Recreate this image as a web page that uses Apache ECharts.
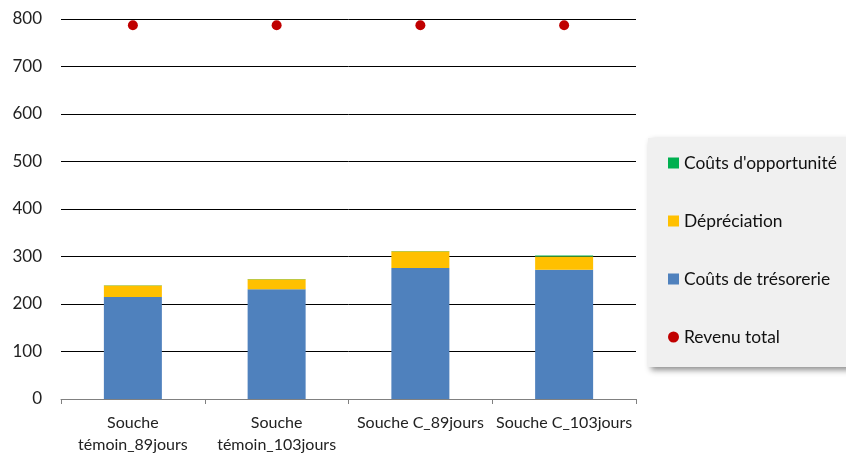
<!DOCTYPE html>
<html>
<head>
<meta charset="utf-8">
<script src="https://cdn.jsdelivr.net/npm/echarts@6/dist/echarts.min.js"></script>
<style>
  html, body { margin: 0; padding: 0; background: #ffffff; }
  #chart { width: 846px; height: 459px; }
</style>
</head>
<body>
<div id="chart"></div>
<script>
// Categories and values
const categories = ['Souche\ntémoin_89jours', 'Souche\ntémoin_103jours', 'Souche C_89jours', 'Souche C_103jours'];
const coutsTresorerie = [215, 231, 276, 272];
const depreciation = [24, 21, 35, 28];
const coutsOpportunite = [0.6, 0.6, 0.6, 2];
const revenuTotal = [787, 787, 787, 787];
const yTicks = [0, 100, 200, 300, 400, 500, 600, 700, 800];

const FONT = 'Lato, "Open Sans", sans-serif';

const chart = echarts.init(document.getElementById('chart'), null, { renderer: 'canvas' });

chart.setOption({
  animation: false,
  backgroundColor: '#ffffff',
  textStyle: { fontFamily: FONT },
  grid: { left: 61, right: 210, top: 19, bottom: 60 },
  legend: {
    orient: 'vertical',
    left: 648,
    top: 138,
    width: 198,
    padding: [15, 20, 20, 20],
    itemGap: 38,
    itemWidth: 11,
    itemHeight: 11,
    backgroundColor: '#f0f0f0',
    shadowColor: 'rgba(0,0,0,0.45)',
    shadowBlur: 6,
    shadowOffsetX: 3,
    shadowOffsetY: 3,
    textStyle: { fontFamily: FONT, fontSize: 17.4, color: '#111', lineHeight: 20, padding: [0, 0, 0, 0] },
    data: [
      { name: "Coûts d'opportunité", icon: 'rect' },
      { name: 'Dépréciation', icon: 'rect' },
      { name: 'Coûts de trésorerie', icon: 'rect' },
      { name: 'Revenu total', icon: 'circle' }
    ]
  },
  xAxis: {
    type: 'category',
    data: categories,
    axisLine: { show: true, lineStyle: { color: '#808080', width: 1 } },
    axisTick: { show: true, alignWithLabel: false, length: 5, lineStyle: { color: '#808080' } },
    axisLabel: { fontFamily: FONT, fontSize: 16, color: '#222', lineHeight: 22, margin: 13, interval: 0 }
  },
  yAxis: {
    type: 'value',
    min: yTicks[0],
    max: yTicks[yTicks.length - 1],
    interval: 100,
    axisLine: { show: false },
    axisTick: { show: false },
    axisLabel: { fontFamily: FONT, fontSize: 17, color: '#222', margin: 19 },
    splitLine: { lineStyle: { color: '#000', width: 1 } }
  },
  series: [
    {
      name: 'Coûts de trésorerie',
      type: 'bar',
      stack: 'cout',
      barWidth: 58,
      data: coutsTresorerie,
      itemStyle: { color: '#4f81bd' }
    },
    {
      name: 'Dépréciation',
      type: 'bar',
      stack: 'cout',
      barWidth: 58,
      data: depreciation,
      itemStyle: { color: '#ffc000' }
    },
    {
      name: "Coûts d'opportunité",
      type: 'bar',
      stack: 'cout',
      barWidth: 58,
      data: coutsOpportunite,
      itemStyle: { color: '#00b050' }
    },
    {
      name: 'Revenu total',
      type: 'scatter',
      symbol: 'circle',
      symbolSize: 10,
      data: revenuTotal,
      itemStyle: { color: '#c00000', opacity: 1 },
      z: 5
    }
  ]
});
</script>
</body>
</html>
